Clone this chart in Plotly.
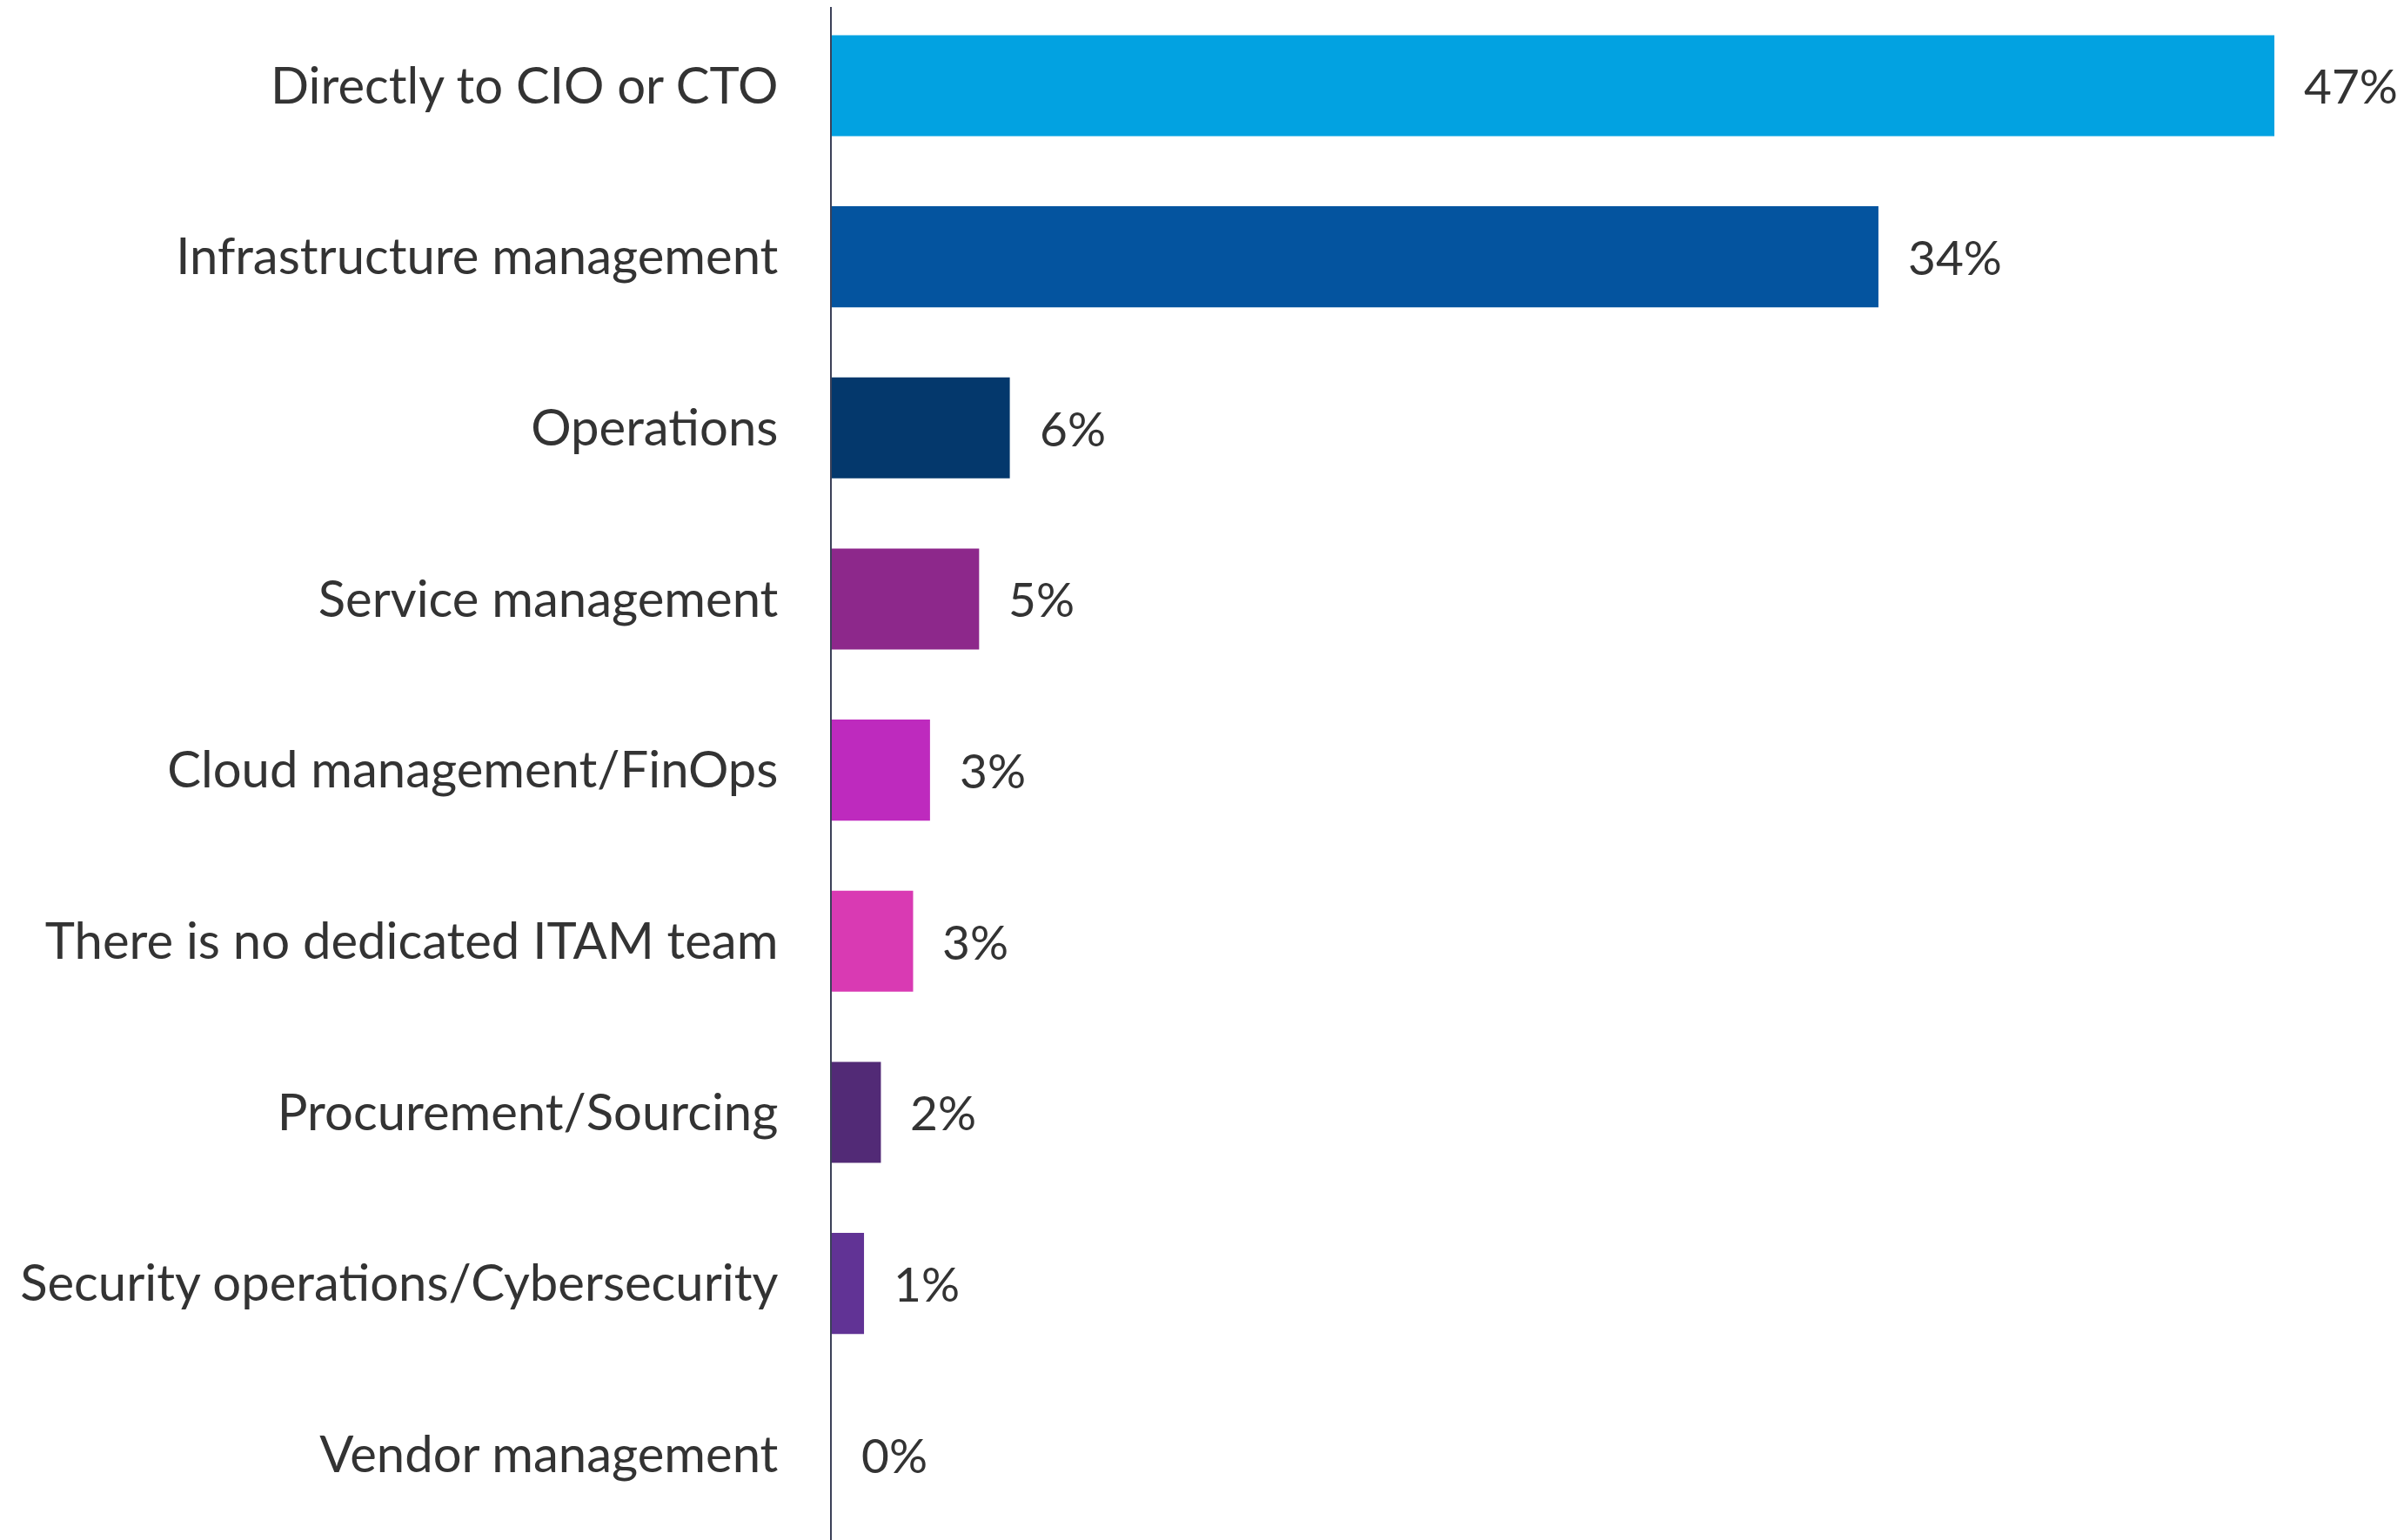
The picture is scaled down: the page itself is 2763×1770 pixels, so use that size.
import plotly.graph_objects as go

# Survey answers, top to bottom as in the chart
categories = [
    "Directly to CIO or CTO",
    "Infrastructure management",
    "Operations",
    "Service management",
    "Cloud management/FinOps",
    "There is no dedicated ITAM team",
    "Procurement/Sourcing",
    "Security operations/Cybersecurity",
    "Vendor management",
]
values = [47.0, 34.1, 5.8, 4.8, 3.2, 2.65, 1.6, 1.05, 0.0]
value_labels = ["47%", "34%", "6%", "5%", "3%", "3%", "2%", "1%", "0%"]
bar_colors = ["#02A2E1", "#04549F", "#04386C", "#8D288B", "#BE2ABE",
              "#D93AB3", "#522A76", "#613395", "#613395"]

FONT = "Source Sans Pro, Lato, sans-serif"
TEXT_COLOR = "#333333"

fig = go.Figure(go.Bar(
    x=values,
    y=categories,
    orientation="h",
    marker=dict(color=bar_colors, line=dict(width=0)),
    hoverinfo="skip",
))

# value labels sit a bit right of each bar end
for cat, val, lab in zip(categories, values, value_labels):
    fig.add_annotation(
        x=val, y=cat, text=lab, showarrow=False,
        xanchor="left", yanchor="middle", xshift=32,
        font=dict(family=FONT, size=55, color=TEXT_COLOR),
    )

fig.update_layout(
    width=2763,
    height=1770,
    margin=dict(l=948, r=0, t=0, b=0),
    paper_bgcolor="white",
    plot_bgcolor="white",
    bargap=0.41,
    showlegend=False,
    font=dict(family=FONT, size=58, color=TEXT_COLOR),
)
fig.update_xaxes(
    range=[0, 51.45], visible=False, showgrid=False, zeroline=False,
)
fig.update_yaxes(
    range=[8.54, -0.46],
    showgrid=False, zeroline=False,
    showline=True, linecolor="#3B4058", linewidth=2,
    ticks="", ticklabelstandoff=48,
    tickfont=dict(family=FONT, size=58, color=TEXT_COLOR),
)

fig.write_html("out.html")
